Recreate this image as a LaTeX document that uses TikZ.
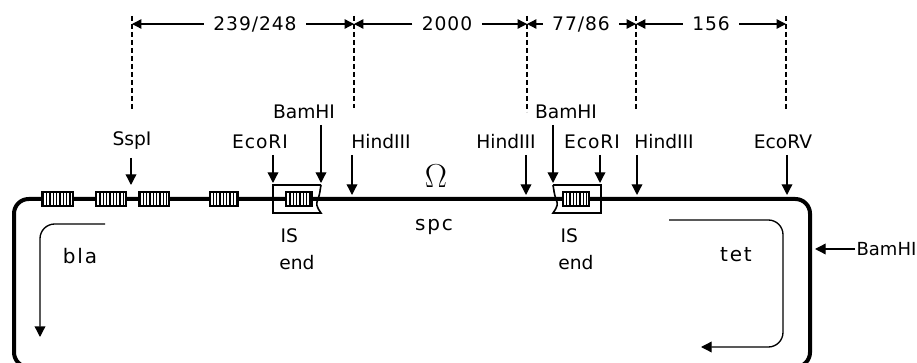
\documentclass[tikz,border=0pt]{standalone}
\usepackage{fontspec}
\setmainfont{DejaVu Sans}
\usetikzlibrary{arrows.meta, patterns.meta}

\tikzset{
    sitearrow/.style={-{Triangle[length=8pt,width=8pt]}, line width=1pt},
    dimarrow/.style={-{Triangle[length=7pt,width=7pt]}, line width=1pt},
    genearrow/.style={-{Triangle[length=8pt,width=8pt]}, line width=1pt},
    dimline/.style={dashed, dash pattern=on 3.5pt off 2.5pt, line width=1pt},
    dimlabel/.style={inner xsep=7pt, font=\fontsize{14}{16}\selectfont\addfontfeatures{LetterSpace=5}},
    genelabel/.style={font=\fontsize{15}{16}\selectfont\addfontfeatures{LetterSpace=9}},
    widelabel/.style={font=\fontsize{14}{16}\selectfont\addfontfeatures{LetterSpace=5}},
    repeatbox/.style={draw, line width=1.4pt, minimum width=#1, minimum height=10.5pt, inner sep=0pt,
        preaction={fill=white}, pattern={Lines[angle=90,distance=2.5pt,line width=1.1pt]}},
    endbox/.style={line width=1.2pt}
}

\begin{document}
\begin{tikzpicture}[
        x=0.75pt, y=-0.75pt,
        every node/.style={align=center, font=\fontsize{14}{16}\selectfont, inner sep=1pt}
    ]
        \useasboundingbox (0,0) rectangle (917,363);
        \clip (0,0) rectangle (917,363);

        % plasmid outline
        \draw[line width=3pt, rounded corners=11] (352,199) -- (14,199) -- (14,367) -- (810,367) -- (810,199) -- cycle;

        % dashed limits
        \coordinate (top1) at (132,24);
        \coordinate (top2) at (354,24);
        \coordinate (top3) at (527,24);
        \coordinate (top4) at (636,24);
        \coordinate (top5) at (786,24);
        \draw[dimline] (132,16) -- (132,110);
        \draw[dimline] (354,16) -- (354,108);
        \draw[dimline] (527,16) -- (527,112);
        \draw[dimline] (636,16) -- (636,110);
        \draw[dimline] (786,16) -- (786,110);

        % lengths
        \node[dimlabel] (len1) at (255,24) {239/248};
        \node[dimlabel] (len2) at (447,24) {2000};
        \node[dimlabel] (len3) at (581,24) {77/86};
        \node[dimlabel] (len4) at (711,24) {156};
        \draw[dimarrow] (len1) -- (top1);
        \draw[dimarrow] (len1) -- (top2);
        \draw[dimarrow] (len2) -- (top2);
        \draw[dimarrow] (len2) -- (top3);
        \draw[dimarrow] (len3) -- (top3);
        \draw[dimarrow] (len3) -- (top4);
        \draw[dimarrow] (len4) -- (top4);
        \draw[dimarrow] (len4) -- (top5);

        % repeats
        \node[repeatbox=23pt] (rep1) at (57.5,199) {};
        \node[repeatbox=22pt] (rep2) at (111,199) {};
        \node[repeatbox=22pt] (rep3) at (154,199) {};
        \node[repeatbox=21pt] (rep4) at (224,199) {};
        \node[repeatbox=19pt] (rep5) at (299,199) {};
        \node[repeatbox=19pt] (rep6) at (576,199) {};

        % IS boxes
        \draw[endbox] (321,185) -- (273,185) -- (273,213) -- (321,213) .. controls (316,206) and (316,204) .. (318,199) .. controls (320,194) and (320,190) .. (321,185);
        \draw[endbox] (553,185) -- (601,185) -- (601,213) -- (553,213) .. controls (558,206) and (558,204) .. (556,199) .. controls (554,194) and (554,190) .. (553,185);

        % sites
        \node (sspi) at (132,141) {SspI};
        \node[widelabel] (ecori1) at (260,142) {EcoRI};
        \node (bamhi1) at (304,112) {BamHI};
        \node (hind1) at (381,142) {HindIII};
        \node (hind2) at (506,142) {HindIII};
        \node (bamhi2) at (566,112) {BamHI};
        \node[widelabel] (ecori2) at (592,142) {EcoRI};
        \node (hind3) at (664,142) {HindIII};
        \node (ecorv) at (783,142) {EcoRV};
        \node[anchor=west, font=\fontsize{13.5}{16}\selectfont] (bamhi3) at (855,249) {BamHI};

        \coordinate (sspitip) at (131,185);
        \coordinate (ecori1tip) at (273,183);
        \coordinate (bamhi1tip) at (321,183);
        \coordinate (hind1tip) at (352,195);
        \coordinate (hind2tip) at (526,195);
        \coordinate (bamhi2tip) at (553,183);
        \coordinate (ecori2tip) at (600,183);
        \coordinate (hind3tip) at (637,195);
        \coordinate (ecorvtip) at (787,195);
        \coordinate (bamhi3tip) at (815,249);

        \draw[sitearrow] (131,158) -- (sspitip);
        \draw[sitearrow] (273,155) -- (ecori1tip);
        \draw[sitearrow] (321,125) -- (bamhi1tip);
        \draw[sitearrow] (352,155) -- (hind1tip);
        \draw[sitearrow] (526,155) -- (hind2tip);
        \draw[sitearrow] (553,125) -- (bamhi2tip);
        \draw[sitearrow] (600,155) -- (ecori2tip);
        \draw[sitearrow] (637,155) -- (hind3tip);
        \draw[sitearrow] (787,155) -- (ecorvtip);
        \draw[sitearrow] (bamhi3) -- (bamhi3tip);

        % genes
        \coordinate (blastart) at (105,224);
        \coordinate (blaend) at (40,337);
        \coordinate (tetstart) at (669,220);
        \coordinate (tetend) at (701,347);
        \draw[genearrow, rounded corners=11] (blastart) -- (40,224) -- (blaend);
        \draw[genearrow, rounded corners=11] (tetstart) -- (783,220) -- (783,347) -- (tetend);
        \node[genelabel] (bla) at (80,256) {bla};
        \node[genelabel] (tet) at (736,255) {tet};
        \node[genelabel] (spc) at (434,227) {spc};
        \node (omega) at (436,176) {\fontsize{24}{24}\selectfont$\Omega$};

        \node[anchor=west] (is1) at (279,236) {IS};
        \node (end1) at (297,263) {end};
        \node[anchor=west] (is2) at (559,236) {IS};
        \node (end2) at (576,263) {end};
    \end{tikzpicture}
\end{document}
